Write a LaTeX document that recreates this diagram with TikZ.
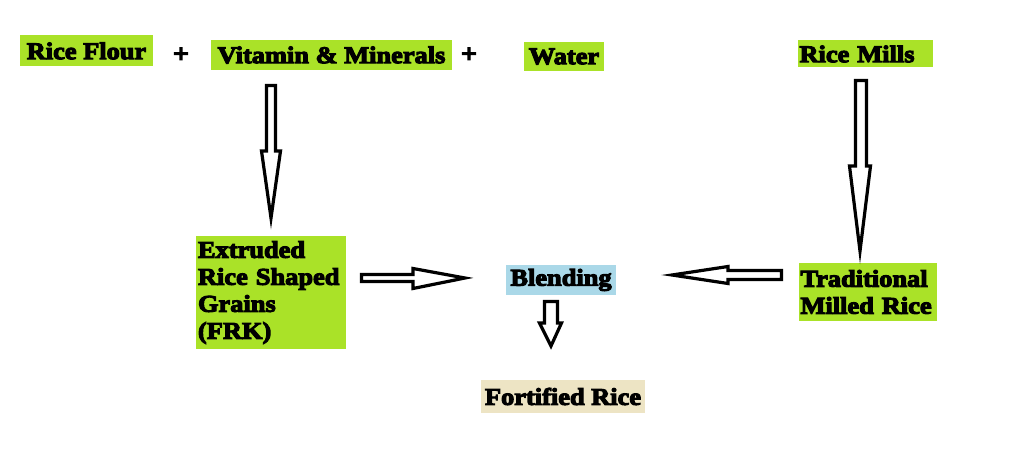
\documentclass[tikz,border=0pt]{standalone}
\usepackage{fontspec}
\newfontfamily\heavy{Liberation Serif}[FakeStretch=1.1, BoldFeatures={FakeBold=4.5}]
\definecolor{boxgreen}{RGB}{170,226,40}
\definecolor{boxblue}{RGB}{170,216,232}
\definecolor{boxbeige}{RGB}{237,228,196}
\tikzset{
  lbl/.style={font=\heavy\bfseries\fontsize{24}{27}\selectfont, text=black, inner sep=1.5pt, anchor=center},
  gbox/.style={lbl, fill=boxgreen},
  plus/.style={font=\heavy\bfseries\fontsize{26}{28}\selectfont, inner sep=0pt},
  blk/.style={draw=black, fill=white, line width=3.2pt, line join=miter, miter limit=20}
}
\begin{document}
\begin{tikzpicture}[x=1pt, y={(0pt,-1pt)}]
\useasboundingbox (0,0) rectangle (1024,449);
\fill[white] (0,0) rectangle (1024,449);
% top row
\node[gbox, minimum width=133pt, minimum height=31pt] (flour) at (86.5,51) {Rice Flour};
\node[plus] (p1) at (181,55) {+};
\node[gbox, minimum width=241pt, minimum height=30pt] (vit) at (331.5,55) {Vitamin \& Minerals};
\node[plus] (p2) at (469,55) {+};
\node[gbox, minimum width=80pt, minimum height=29pt] (water) at (564,56.5) {Water};
\node[gbox, minimum width=135pt, minimum height=27pt, text width=131pt, align=left] (mills) at (865,54) {Rice Mills};
% middle row
\node[gbox, minimum width=150pt, minimum height=113pt, text width=146pt, align=left] (frk) at (271,292.5)
  {Extruded\\Rice Shaped\\Grains\\(FRK)};
\node[lbl, fill=boxblue, minimum width=110pt, minimum height=30pt] (blend) at (561,280) {Blending};
\node[gbox, minimum width=138pt, minimum height=58pt, text width=135pt, align=left] (trad) at (868,292)
  {Traditional\\Milled Rice};
\node[lbl, fill=boxbeige, minimum width=164pt, minimum height=33pt] (fort) at (563,396.5) {Fortified Rice};
% block arrows
\draw[blk] (266.5,85.5) -- (275.5,85.5) -- (275.5,151) -- (280.5,151) -- (271,218) -- (261.5,151) -- (266.5,151) -- cycle;
\draw[blk] (855.5,80.5) -- (866.5,80.5) -- (866.5,166) -- (870.5,166) -- (860,251) -- (849.5,166) -- (855.5,166) -- cycle;
\draw[blk] (361.5,274.5) -- (413,274.5) -- (413,268.5) -- (465,278) -- (413,288.5) -- (413,281.5) -- (361.5,281.5) -- cycle;
\draw[blk] (781.5,270.5) -- (728,270.5) -- (728,266.5) -- (672,275) -- (728,283.5) -- (728,279.5) -- (781.5,279.5) -- cycle;
\draw[blk] (544.5,301.5) -- (557.5,301.5) -- (557.5,323) -- (561.5,323) -- (551,346) -- (539.5,323) -- (544.5,323) -- cycle;
\end{tikzpicture}
\end{document}
